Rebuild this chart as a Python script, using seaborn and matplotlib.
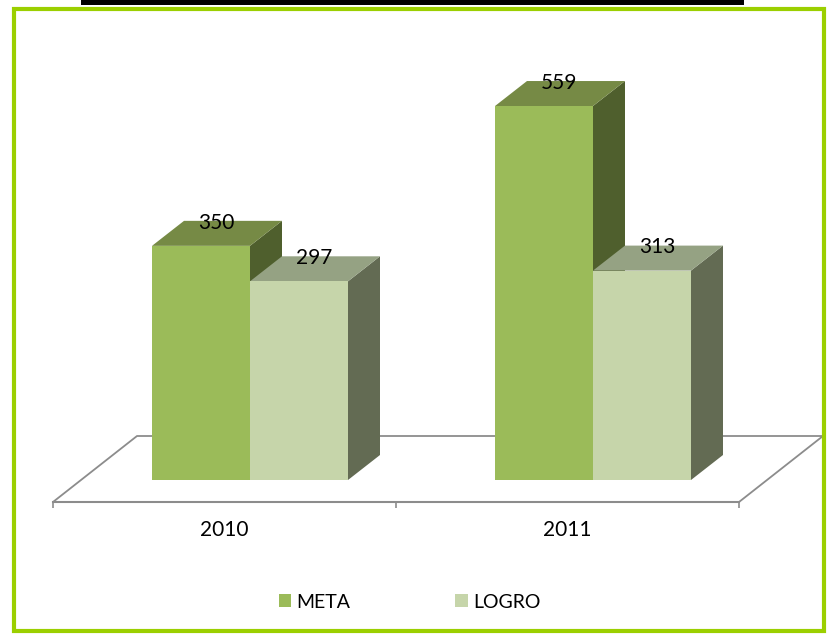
import matplotlib
matplotlib.use("Agg")
import matplotlib.pyplot as plt
import pandas as pd
import seaborn as sns
from matplotlib.patches import Polygon, Rectangle

years = ["2010", "2011"]
meta = [350, 559]
logro = [297, 313]

W, H = 827, 634
FRONT = {"META": "#9BBB59", "LOGRO": "#C6D5AA"}
TOP = {"META": "#768A45", "LOGRO": "#95A283"}
SIDE = {"META": "#4F5F2D", "LOGRO": "#636B53"}
GRID = "#8C8C8C"

# pixel scales of the chart, used to turn the fake 3D depth into data units
PX_PER_CAT = 343
PX_PER_VAL = 0.669
bar_dx, bar_dy = 32 / PX_PER_CAT, 25 / PX_PER_VAL
floor_dx, floor_dy = 84 / PX_PER_CAT, 66 / PX_PER_VAL
shift_x = 25.5 / PX_PER_CAT
y_low = -22 / PX_PER_VAL

sns.set_theme(style="white")
plt.rcParams["font.family"] = ["Lato", "DejaVu Sans"]

df = pd.DataFrame({
    "year": years * 2,
    "serie": ["META"] * len(meta) + ["LOGRO"] * len(logro),
    "valor": meta + logro,
})

fig = plt.figure(figsize=(W / 100, H / 100), dpi=100, facecolor="white")
# axes spans the front edge of the floor, top is just headroom
ax = fig.add_axes([53 / W, 1 - 502 / H, 686 / W, 452 / H])
ax.patch.set_alpha(0)

sns.barplot(data=df, x="year", y="valor", hue="serie", hue_order=["META", "LOGRO"],
            palette=FRONT, width=196 / PX_PER_CAT, gap=0, saturation=1,
            linewidth=0, ax=ax, zorder=3)

x_low = -0.5 - shift_x
ax.set_xlim(x_low, x_low + 2)
ax.set_ylim(y_low, y_low + 452 / PX_PER_VAL)

# top and side faces come from each bar that seaborn drew
for n, (serie, bars) in enumerate(zip(["META", "LOGRO"], ax.containers)):
    for bar, val in zip(bars, bars.datavalues):
        x0, x1 = bar.get_x(), bar.get_x() + bar.get_width()
        h = bar.get_height()
        top = Polygon([(x0, h), (x1, h), (x1 + bar_dx, h + bar_dy), (x0 + bar_dx, h + bar_dy)],
                      fc=TOP[serie], ec="none", zorder=2 + n * 0.2)
        side = Polygon([(x1, 0), (x1, h), (x1 + bar_dx, h + bar_dy), (x1 + bar_dx, bar_dy)],
                       fc=SIDE[serie], ec="none", zorder=2 + n * 0.1)
        ax.add_patch(side)
        ax.add_patch(top)
        # label sits on the back edge of the top face
        ax.text((x0 + x1 + bar_dx) / 2 - 0.002, h + bar_dy - 2.5, f"{val:.0f}", ha="center", va="center",
                fontsize=15, color="black", zorder=5)

# floor outline
x_hi = x_low + 2
back = y_low + floor_dy
ax.plot([x_low, x_low + floor_dx, x_hi + floor_dx, x_hi], [y_low, back, back, y_low],
        color=GRID, lw=1.3, clip_on=False, zorder=1)

sns.despine(ax=ax, left=True, top=True, right=True)
ax.spines["bottom"].set_color(GRID)
ax.spines["bottom"].set_linewidth(1.5)
ax.set_yticks([])
ax.set_xlabel("")
ax.set_ylabel("")
ax.set_xticks([i - shift_x for i in range(len(years))], years)
ax.set_xticks([x_low, x_low + 1, x_hi], minor=True)
ax.tick_params(axis="x", which="major", length=0, pad=13, labelsize=15, colors="black")
ax.tick_params(axis="x", which="minor", bottom=True, length=4.5, width=1.2, color=GRID)

sns.move_legend(ax, "center", bbox_to_anchor=(409.5 / W, 1 - 602 / H), bbox_transform=fig.transFigure,
                ncol=2, frameon=False, title=None, fontsize=14, handlelength=0.65, handleheight=0.65,
                handletextpad=0.25, columnspacing=5.4, labelcolor="black")

# outer green frame and the cut-off black band above it
fig.add_artist(Rectangle((14 / W, 1 - 631 / H), 810 / W, 622 / H, transform=fig.transFigure,
                         fc="none", ec="#9BCF00", lw=3))
fig.add_artist(Rectangle((81 / W, 1 - 5 / H), 663 / W, 5 / H, transform=fig.transFigure,
                         fc="black", ec="none"))

fig.savefig("out.png", dpi=100, facecolor="white")
